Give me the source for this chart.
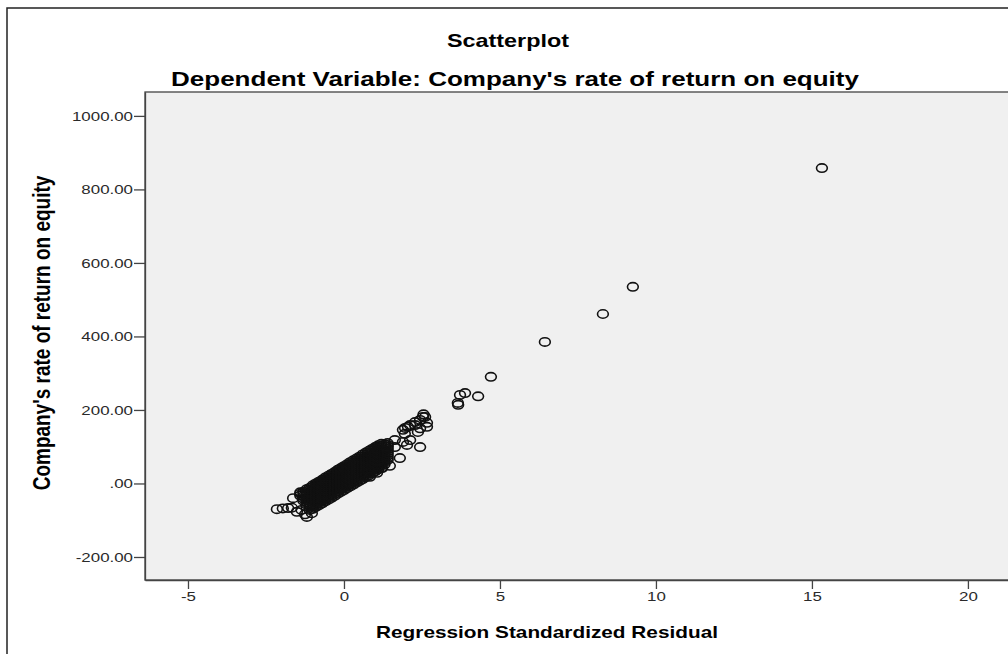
<!DOCTYPE html>
<html>
<head>
<meta charset="utf-8">
<script src="https://cdn.jsdelivr.net/npm/d3@7"></script>
<style>
	body { margin: 0; background: #fff; }
	svg { display: block; font-family: "Liberation Sans", Arial, sans-serif; }
</style>
</head>
<body>
<div id="chart-area"><svg></svg></div>
<script>
const chartSize = { width: 1008, height: 654 };
const plot = { left: 145, right: 1030, top: 92, bottom: 580 };
const stretch = 1.3;

const xTicks = [-5, 0, 5, 10, 15, 20];
const yTicks = [-200, 0, 200, 400, 600, 800, 1000];

const bandResiduals = [-1.4, -1.3, -1.2, -1.1, -1.0, -0.9, -0.8, -0.7, -0.6, -0.5, -0.4, -0.3, -0.2, -0.1,
	0.0, 0.1, 0.2, 0.3, 0.4, 0.5, 0.6, 0.7, 0.8, 0.9, 1.0, 1.1, 1.2, 1.3, 1.4];
const bandReturns = [
	[-33, -28, -24],
	[-47, -41, -35, -29, -23],
	[-63, -57, -51, -45, -39, -33, -27, -21, -16],
	[-72, -66, -60, -54, -48, -42, -36, -30, -24, -18, -12],
	[-69, -63, -58, -52, -47, -41, -36, -30, -25, -19, -14, -9, -5],
	[-64, -58, -53, -47, -42, -36, -31, -25, -20, -14, -9, -4, 0],
	[-59, -53, -48, -42, -37, -31, -26, -20, -15, -9, -4, 1, 5],
	[-54, -48, -43, -37, -32, -26, -21, -15, -10, -4, 1, 6, 10],
	[-49, -43, -38, -32, -27, -21, -16, -10, -5, 1, 6, 11, 16],
	[-44, -38, -33, -27, -22, -16, -11, -5, 0, 6, 11, 16, 21],
	[-39, -33, -28, -22, -17, -11, -6, 0, 5, 11, 16, 21, 26],
	[-34, -28, -23, -17, -12, -6, -1, 5, 10, 16, 21, 26, 31],
	[-28, -22, -17, -11, -6, 0, 5, 11, 16, 22, 27, 32, 37],
	[-23, -17, -12, -6, -1, 5, 10, 16, 21, 27, 32, 37, 42],
	[-18, -12, -7, -1, 4, 10, 15, 21, 26, 32, 37, 42, 47],
	[-13, -7, -2, 4, 9, 15, 20, 26, 31, 37, 42, 47, 52],
	[-8, -2, 3, 9, 14, 20, 25, 31, 36, 42, 47, 52, 58],
	[-3, 3, 8, 14, 19, 25, 30, 36, 41, 47, 52, 57, 63],
	[2, 8, 13, 19, 24, 30, 35, 41, 46, 52, 57, 62, 68],
	[7, 13, 18, 24, 29, 35, 40, 46, 51, 57, 62, 67, 73],
	[12, 18, 23, 29, 34, 40, 45, 51, 56, 62, 67, 73, 79],
	[17, 23, 28, 34, 39, 45, 50, 56, 61, 67, 72, 78, 84],
	[22, 28, 33, 39, 44, 50, 55, 61, 66, 72, 77, 83, 89],
	[28, 34, 39, 45, 50, 56, 61, 67, 72, 78, 83, 89, 94],
	[33, 39, 44, 50, 55, 61, 66, 72, 77, 83, 88, 94, 99],
	[38, 44, 49, 55, 60, 66, 71, 77, 82, 88, 93, 99, 104],
	[43, 49, 54, 60, 65, 71, 76, 82, 87, 93, 98, 103, 108],
	[52, 58, 63, 69, 74, 80, 85, 91, 96, 101, 106],
	[64, 70, 76, 82, 88, 94, 100, 105, 110]
];

const edgePoints = [
	[-2.15, -70], [-1.96, -68], [-1.79, -67], [-1.67, -66], [-1.63, -40], [-1.51, -77],
	[-1.36, -72], [-1.25, -84], [-1.19, -91], [-1.03, -81],
	[0.83, 18], [1.06, 29], [1.22, 42], [1.47, 48], [1.79, 69], [1.63, 99], [1.63, 118],
	[1.89, 113], [2.02, 105], [2.12, 118], [2.44, 99], [1.95, 135], [1.89, 146], [1.96, 151],
	[2.05, 154], [2.12, 159], [2.28, 159], [2.28, 167], [2.37, 140], [2.44, 150], [2.44, 173],
	[2.53, 181], [2.60, 181], [2.55, 188], [2.66, 165], [2.66, 154]
];

const outlierPoints = [
	[3.65, 219], [3.66, 214], [3.72, 241], [3.88, 246], [4.30, 237], [4.71, 290],
	[6.44, 385], [8.30, 461], [9.26, 535], [15.32, 858]
];

const formatReturn = d => (d === 0 ? ".00" : d.toFixed(2));

const drawChart = () => {
	const svg = d3
		.select("#chart-area svg")
		.attr("width", chartSize.width)
		.attr("height", chartSize.height);

	const x = d3
		.scaleLinear()
		.domain([-6.378, 21.99])
		.range([plot.left, plot.right]);

	const y = d3
		.scaleLinear()
		.domain([-262.6, 1065])
		.range([plot.bottom, plot.top]);

	svg.append("path")
		.attr("d", `M7,${chartSize.height} V8 H${chartSize.width}`)
		.attr("fill", "none")
		.attr("stroke", "#222")
		.attr("stroke-width", 1.5);

	svg.append("rect")
		.attr("x", plot.left)
		.attr("y", plot.top)
		.attr("width", plot.right - plot.left)
		.attr("height", plot.bottom - plot.top)
		.attr("fill", "#f0f0f0")
		.attr("stroke", "#444")
		.attr("stroke-width", 1.3);

	const points = bandResiduals
		.flatMap((r, i) => bandReturns[i].map(v => [r, v]))
		.concat(edgePoints, outlierPoints);

	svg.append("g")
		.attr("class", "points")
		.selectAll("ellipse")
		.data(points)
		.enter()
		.append("ellipse")
		.attr("cx", d => x(d[0]))
		.attr("cy", d => y(d[1]))
		.attr("rx", 5.4)
		.attr("ry", 4.2)
		.attr("fill", "none")
		.attr("stroke", "#111")
		.attr("stroke-width", 1.6);

	const yAxis = d3
		.axisLeft(y)
		.tickValues(yTicks)
		.tickSize(11)
		.tickSizeOuter(0)
		.tickFormat(formatReturn);

	const gy = svg.append("g")
		.attr("class", "y axis")
		.attr("transform", `translate(${plot.left},0)`)
		.call(yAxis);

	gy.selectAll("text")
		.attr("x", -12 / stretch)
		.attr("transform", `scale(${stretch},1)`)
		.attr("font-size", 13)
		.attr("fill", "#2a2a2a");

	const xAxis = d3
		.axisBottom(x)
		.tickValues(xTicks)
		.tickSize(9)
		.tickPadding(3)
		.tickSizeOuter(0)
		.tickFormat(d => String(d));

	const gx = svg.append("g")
		.attr("class", "x axis")
		.attr("transform", `translate(0,${plot.bottom})`)
		.call(xAxis);

	gx.selectAll("text")
		.attr("transform", `scale(${stretch},1)`)
		.attr("font-size", 13)
		.attr("fill", "#2a2a2a");

	svg.selectAll(".axis path, .axis line")
		.attr("stroke", "#444")
		.attr("stroke-width", 1.3);

	const label = (text, tx, ty, size, extra = "") =>
		svg.append("text")
			.attr("transform", `translate(${tx},${ty}) scale(${stretch},1) ${extra}`)
			.attr("text-anchor", "middle")
			.attr("font-weight", "bold")
			.attr("font-size", size)
			.attr("fill", "#000")
			.text(text);

	label("Scatterplot", 508, 47, 18);
	label("Dependent Variable: Company's rate of return on equity", 515, 86, 20);
	label("Regression Standardized Residual", 547, 638, 16);
	label("Company's rate of return on equity", 50, 333, 19, "rotate(-90)");
};

window.onload = drawChart;
</script>
</body>
</html>
